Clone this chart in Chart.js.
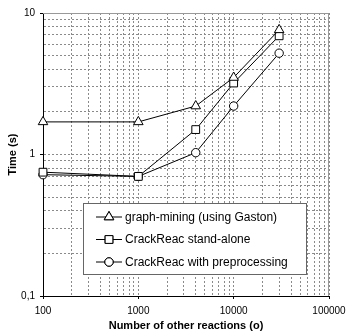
<!DOCTYPE html>
<html lang="en">
<head>
  <meta charset="UTF-8">
  <title>Time vs number of other reactions</title>
  <script src="https://cdn.jsdelivr.net/npm/chart.js"></script>
  <style>
body {
  margin: 0;
  background: #fff;
  overflow: hidden;
}
.chart-container {
  position: relative;
  width: 360px;
  height: 333px;
}
  </style>
</head>
<body>

  <div class="chart-container">
    <canvas id="timeChart"></canvas>
  </div>

  <script>
    // data
    const reactions = [100, 1000, 4000, 10000, 30000];
    const gaston = [1.7, 1.7, 2.2, 3.5, 7.6];
    const standAlone = [0.75, 0.7, 1.5, 3.2, 6.9];
    const preprocessing = [0.72, 0.7, 1.03, 2.2, 5.2];
    const seriesNames = ['graph-mining (using Gaston)', 'CrackReac stand-alone', 'CrackReac with preprocessing'];
    const xTicks = [100, 1000, 10000, 100000];
    const yTicks = [0.1, 1, 10];

    function toPoints(values) {
      return reactions.map((x, i) => ({ x: x, y: values[i] }));
    }

    // 1..9 times every decade between two powers of ten
    function logSteps(min, max) {
      const out = [];
      for (let d = min; d < max; d *= 10) {
        for (let k = 1; k < 10; k++) out.push(+(k * d).toPrecision(3));
      }
      out.push(max);
      return out;
    }

    const frameLines = {
      id: 'frameLines',
      beforeDatasetsDraw(chart) {
        const { ctx, chartArea: a } = chart;
        ctx.save();
        ctx.strokeStyle = '#999';
        ctx.lineWidth = 1;
        ctx.beginPath();
        ctx.moveTo(a.left, a.top + 0.5);
        ctx.lineTo(a.right - 0.5, a.top + 0.5);
        ctx.lineTo(a.right - 0.5, a.bottom);
        ctx.stroke();
        ctx.restore();
      }
    };

    const boxLegend = {
      id: 'boxLegend',
      afterDraw(chart) {
        const ctx = chart.ctx;
        const left = 83.5, top = 203.5, w = 223, h = 71;
        ctx.save();
        ctx.fillStyle = '#fff';
        ctx.fillRect(left, top, w, h);
        ctx.strokeStyle = '#666';
        ctx.lineWidth = 1;
        ctx.strokeRect(left, top, w, h);
        ctx.font = '12px "Liberation Sans", Arial, sans-serif';
        ctx.textBaseline = 'middle';
        chart.data.datasets.forEach((ds, i) => {
          const y = 217 + i * 22.5;
          ctx.strokeStyle = '#000';
          ctx.beginPath();
          ctx.moveTo(96, y);
          ctx.lineTo(122, y);
          ctx.stroke();
          Chart.helpers.drawPoint(ctx, {
            pointStyle: ds.pointStyle,
            radius: ds.pointRadius,
            borderWidth: 1,
            rotation: 0
          }, 109, y);
          ctx.fillStyle = '#fff';
          ctx.fill();
          ctx.stroke();
          ctx.fillStyle = '#000';
          ctx.fillText(ds.label, 125, y + 0.5);
        });
        ctx.restore();
      }
    };

    function makeSet(label, values, style, radius) {
      return {
        label: label,
        data: toPoints(values),
        showLine: true,
        clip: false,
        borderColor: '#000',
        borderWidth: 1,
        backgroundColor: '#fff',
        pointStyle: style,
        pointRadius: radius,
        pointHoverRadius: radius,
        pointBorderColor: '#000',
        pointBackgroundColor: '#fff',
        pointBorderWidth: 1
      };
    }

    const tickFont = { family: '"Liberation Sans", Arial, sans-serif', size: 10 };
    const titleFont = { family: '"Liberation Sans", Arial, sans-serif', size: 11, weight: 'bold' };
    const majorTick = list => c => list.includes(c.tick && c.tick.value) ? '#000' : 'rgba(0,0,0,0)';

    const ctx = document.getElementById('timeChart').getContext('2d');
    const timeChart = new Chart(ctx, {
      type: 'scatter',
      data: {
        datasets: [
          makeSet(seriesNames[0], gaston, 'triangle', 5.5),
          makeSet(seriesNames[1], standAlone, 'rect', 5.5),
          makeSet(seriesNames[2], preprocessing, 'circle', 4.2)
        ]
      },
      options: {
        responsive: true,
        maintainAspectRatio: false,
        animation: false,
        layout: { padding: { top: 13, right: 31, left: 0, bottom: 0 } },
        plugins: {
          legend: { display: false },
          tooltip: { enabled: false }
        },
        scales: {
          x: {
            type: 'logarithmic',
            min: xTicks[0],
            max: xTicks[xTicks.length - 1],
            afterBuildTicks(scale) {
              scale.ticks = logSteps(xTicks[0], xTicks[xTicks.length - 1]).map(v => ({ value: v }));
            },
            afterFit(scale) { scale.height = 37; },
            ticks: {
              autoSkip: false,
              maxRotation: 0,
              padding: 6,
              color: '#000',
              font: tickFont,
              callback: v => xTicks.includes(v) ? String(v) : ''
            },
            grid: { color: '#8a8a8a', tickColor: majorTick(xTicks), tickLength: 3 },
            border: { color: '#000', width: 1, dash: [2, 2] },
            title: {
              display: true,
              text: 'Number of other reactions (o)',
              color: '#000',
              font: titleFont,
              padding: { top: 0, bottom: 0 }
            }
          },
          y: {
            type: 'logarithmic',
            min: yTicks[0],
            max: yTicks[yTicks.length - 1],
            afterBuildTicks(scale) {
              scale.ticks = logSteps(yTicks[0], yTicks[yTicks.length - 1]).map(v => ({ value: v }));
            },
            afterFit(scale) { scale.width = 43; },
            ticks: {
              autoSkip: false,
              padding: 5,
              color: '#000',
              font: tickFont,
              callback: v => yTicks.includes(v) ? String(v).replace('.', ',') : ''
            },
            grid: { color: '#8a8a8a', tickColor: majorTick(yTicks), tickLength: 3 },
            border: { color: '#000', width: 1, dash: [2, 2] },
            title: {
              display: true,
              text: 'Time (s)',
              color: '#000',
              font: titleFont,
              padding: { top: 6, bottom: 0 }
            }
          }
        }
      },
      plugins: [frameLines, boxLegend]
    });
  </script>

</body>
</html>
